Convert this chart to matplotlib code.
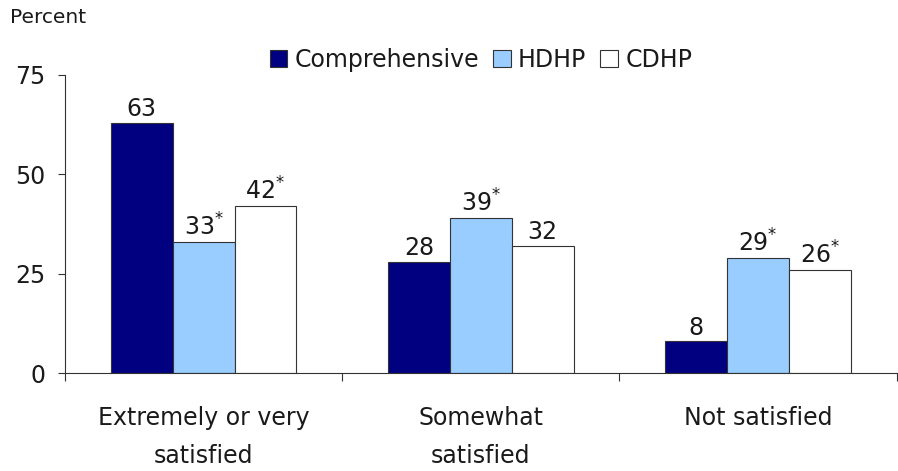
import matplotlib.pyplot as plt
import numpy as np

plt.rcParams["font.family"] = ["DejaVu Sans"]

categories = ["Extremely or very\nsatisfied", "Somewhat\nsatisfied", "Not satisfied"]
plans = ["Comprehensive", "HDHP", "CDHP"]
comprehensive = [63, 28, 8]
hdhp = [33, 39, 29]
cdhp = [42, 32, 26]
star_comprehensive = [False, False, False]
star_hdhp = [True, True, True]
star_cdhp = [True, False, True]
colors = ["#000080", "#99CCFF", "#FFFFFF"]

FS = 17
TXT = "#1a1a1a"

fig = plt.figure(figsize=(8.98, 4.71), dpi=100)
ax = fig.add_axes([0.0724, 0.208, 0.926, 0.633])

x = np.arange(len(categories))
w = 0.223
series = [comprehensive, hdhp, cdhp]
stars = [star_comprehensive, star_hdhp, star_cdhp]
for i, (vals, st) in enumerate(zip(series, stars)):
    pos = x + (i - 1) * w
    ax.bar(pos, vals, w, color=colors[i], edgecolor="#333333", linewidth=0.8,
           label=plans[i])
    for p, v, s in zip(pos, vals, st):
        lbl = f"{v}" + (r"$^{*}$" if s else "")
        ax.annotate(lbl, (p, v), xytext=(0, 1), textcoords="offset points",
                    ha="center", va="bottom", fontsize=FS, color=TXT)

ax.set_xlim(-0.5, 2.5)
ax.set_ylim(0, 75)
ax.set_yticks([0, 25, 50, 75])
ax.tick_params(axis="y", labelsize=FS, length=5, color="#333333", pad=9,
               labelcolor=TXT)
ax.set_xticks([-0.5, 0.5, 1.5, 2.5])
ax.set_xticklabels([])
ax.tick_params(axis="x", length=6, color="#333333", direction="out")
for i, c in enumerate(categories):
    ax.text(i, -0.11, c, transform=ax.get_xaxis_transform(), ha="center",
            va="top", fontsize=FS, linespacing=1.75, color=TXT)
for s in ["top", "right"]:
    ax.spines[s].set_visible(False)
for s in ["left", "bottom"]:
    ax.spines[s].set_color("#333333")

fig.text(0.011, 0.962, "Percent", fontsize=14.5, va="center", color=TXT)
leg = ax.legend(loc="center", bbox_to_anchor=(0.5, 1.05), ncol=3, frameon=False,
                fontsize=FS, handlelength=0.75, handleheight=0.75,
                handletextpad=0.3, columnspacing=0.6, borderpad=0)
for t in leg.get_texts():
    t.set_color(TXT)

fig.savefig("out.png", dpi=100)
